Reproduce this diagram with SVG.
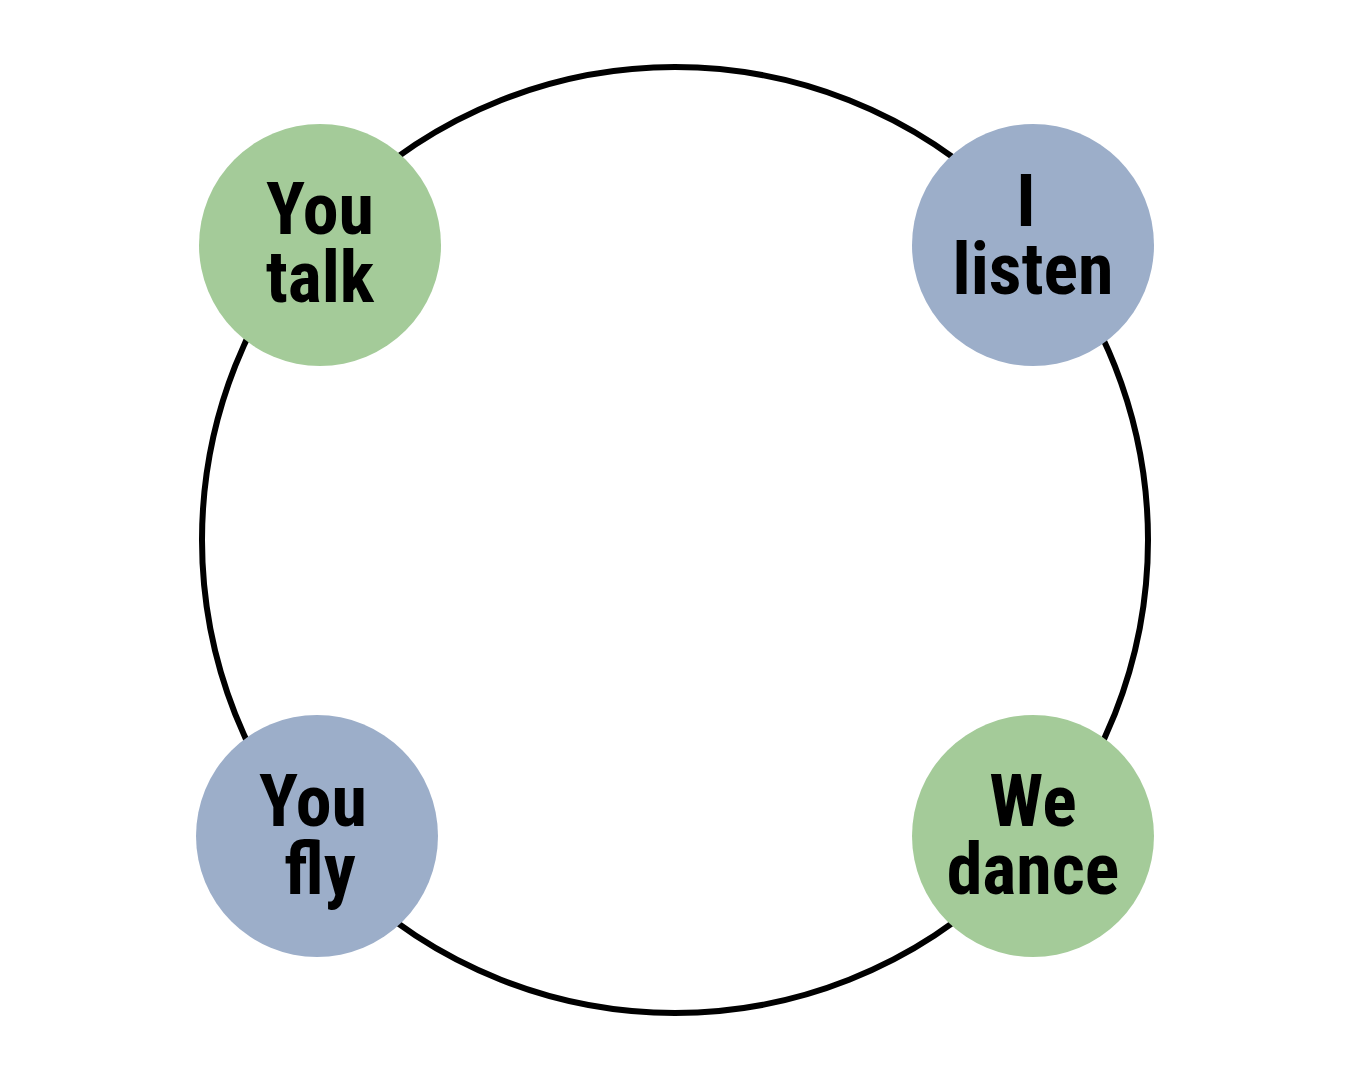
<svg xmlns="http://www.w3.org/2000/svg" width="1350" height="1080" viewBox="0 0 1350 1080">
<style>
.ring{fill:none;stroke:#000;stroke-width:6}
.g{fill:#a4cb99}
.b{fill:#9caec9}
text{font-family:"Liberation Sans Narrow","Roboto Condensed","DejaVu Sans Condensed",sans-serif;font-weight:bold;font-size:72px;text-anchor:middle;fill:#000}
</style>
<rect width="1350" height="1080" fill="#fff"/>
<g id="connectors"><circle class="ring" cx="675" cy="540" r="473"/></g>
<g id="n1"><circle class="g" cx="320" cy="245" r="121"/><text x="320" y="234">You</text><text x="320" y="302">talk</text></g>
<g id="n2"><circle class="b" cx="1033" cy="245" r="121"/><text x="1026" y="226">I</text><text x="1033" y="294">listen</text></g>
<g id="n3"><circle class="b" cx="317" cy="836" r="121"/><text x="313" y="826">You</text><text x="320" y="894">fly</text></g>
<g id="n4"><circle class="g" cx="1033" cy="836" r="121"/><text x="1033" y="826">We</text><text x="1033" y="894">dance</text></g>
</svg>
